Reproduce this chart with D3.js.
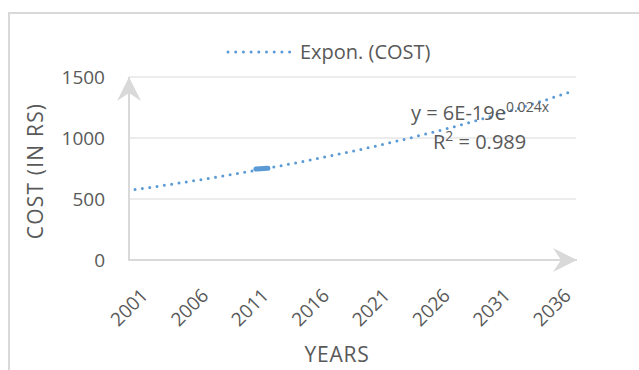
<!DOCTYPE html>
<html>
<head>
<meta charset="utf-8">
<script src="https://cdn.jsdelivr.net/npm/d3@7"></script>
<style>
  html, body { margin: 0; padding: 0; background: #fff; }
  svg { display: block; }
  text { font-family: "Open Sans", "Noto Sans", sans-serif; fill: #595959; }
</style>
</head>
<body>
<svg id="chart" width="639" height="370"></svg>
<script>
// Years on the category axis
const years = d3.range(2001, 2038);
// Label every fifth year
const tickYears = [2001, 2006, 2011, 2016, 2021, 2026, 2031, 2036];
// Observed cost (Rs); only the recorded years carry a value
const costYears = [2011, 2012];
const costValues = [745, 752];
// Exponential trendline fitted to the cost: y = A * e^(B * year)
const trendA = 5.95e-19;
const trendB = 0.02415;
const trendR2 = 0.989;
// Value axis ticks
const yTicks = [0, 500, 1000, 1500];

const svg = d3.select("#chart");
const W = 639, H = 370;
const plot = { left: 129, right: 576, top: 77, bottom: 260 };

const grey = "#d9d9d9";
const blue = "#5b9bd5";

// Chart border
svg.append("rect")
  .attr("x", 9).attr("y", 13)
  .attr("width", W + 10).attr("height", H + 10)
  .attr("fill", "none").attr("stroke", grey).attr("stroke-width", 2);

const x = d3.scaleBand().domain(years).range([plot.left, plot.right]);
const cx = d => x(d) + x.bandwidth() / 2;
const y = d3.scaleLinear().domain([0, 1500]).range([plot.bottom, plot.top]);

// Horizontal gridlines
svg.append("g").selectAll("line")
  .data(yTicks.filter(v => v > 0))
  .join("line")
  .attr("x1", plot.left).attr("x2", plot.right)
  .attr("y1", d => y(d)).attr("y2", d => y(d))
  .attr("stroke", grey).attr("stroke-width", 1);

// Value axis labels
const yAxis = d3.axisLeft(y).tickValues(yTicks).tickFormat(d3.format("d"))
  .tickSize(0).tickPadding(24);
svg.append("g")
  .attr("transform", `translate(${plot.left},0)`)
  .call(yAxis)
  .call(g => g.select(".domain").remove())
  .call(g => g.selectAll("text")
    .attr("font-size", 19)
    .attr("font-family", null)
    .attr("fill", "#595959"));

// Arrowheads for the axis lines
const defs = svg.append("defs");
defs.append("marker")
  .attr("id", "arrow")
  .attr("viewBox", "0 0 24 24")
  .attr("refX", 24).attr("refY", 12)
  .attr("markerWidth", 24).attr("markerHeight", 24)
  .attr("markerUnits", "userSpaceOnUse")
  .attr("orient", "auto")
  .append("path")
  .attr("d", "M0,0 L24,12 L0,24 L8,12 Z")
  .attr("fill", grey);

// Category axis line
svg.append("line")
  .attr("x1", plot.left - 1).attr("x2", plot.right + 1)
  .attr("y1", plot.bottom).attr("y2", plot.bottom)
  .attr("stroke", grey).attr("stroke-width", 2)
  .attr("marker-end", "url(#arrow)");

// Value axis line
svg.append("line")
  .attr("x1", plot.left).attr("x2", plot.left)
  .attr("y1", plot.bottom + 1).attr("y2", plot.top)
  .attr("stroke", grey).attr("stroke-width", 2)
  .attr("marker-end", "url(#arrow)");

// Category labels, rotated
svg.append("g").selectAll("text")
  .data(tickYears)
  .join("text")
  .attr("transform", d => `translate(${cx(d) + 9.5},292) rotate(-45)`)
  .attr("text-anchor", "end")
  .attr("dy", "0.35em")
  .attr("font-size", 19)
  .text(d => d);

// Axis titles
svg.append("text")
  .attr("x", 337).attr("y", 362)
  .attr("text-anchor", "middle")
  .attr("font-size", 21)
  .attr("letter-spacing", 0.8)
  .text("YEARS");

svg.append("text")
  .attr("transform", `translate(43,171) rotate(-90)`)
  .attr("text-anchor", "middle")
  .attr("font-size", 21)
  .attr("letter-spacing", 1.2)
  .text("COST (IN RS)");

// Exponential trendline
const trendData = years.map(yr => ({ yr, v: trendA * Math.exp(trendB * yr) }));
const line = d3.line().x(d => cx(d.yr)).y(d => y(d.v));
svg.append("path")
  .datum(trendData)
  .attr("d", line)
  .attr("fill", "none")
  .attr("stroke", blue)
  .attr("stroke-width", 3)
  .attr("stroke-linecap", "round")
  .attr("stroke-dasharray", "0 7.4");

// Recorded cost series
const costData = costYears.map((yr, i) => ({ yr, v: costValues[i] }));
svg.append("path")
  .datum(costData)
  .attr("d", line)
  .attr("fill", "none")
  .attr("stroke", blue)
  .attr("stroke-width", 5)
  .attr("stroke-linecap", "round");

// Legend
svg.append("line")
  .attr("x1", 228).attr("x2", 290)
  .attr("y1", 52).attr("y2", 52)
  .attr("stroke", blue).attr("stroke-width", 3)
  .attr("stroke-linecap", "round")
  .attr("stroke-dasharray", "0 7.7");
svg.append("text")
  .attr("x", 300).attr("y", 59)
  .attr("font-size", 20)
  .text("Expon. (COST)");

// Trendline equation and R²
const aText = d3.format(".0e")(trendA).toUpperCase();
const bText = d3.format(".2")(trendB);
const eq = svg.append("text")
  .attr("x", 411).attr("y", 120)
  .attr("font-size", 20);
eq.append("tspan").text(`y = ${aText}e`);
eq.append("tspan").attr("font-size", 14).attr("dy", -8).text(`${bText}x`);

const r2 = svg.append("text")
  .attr("x", 433).attr("y", 149)
  .attr("font-size", 20);
r2.append("tspan").text("R");
r2.append("tspan").attr("font-size", 14).attr("dy", -8).text("2");
r2.append("tspan").attr("dy", 8).text(` = ${trendR2}`);
</script>
</body>
</html>
